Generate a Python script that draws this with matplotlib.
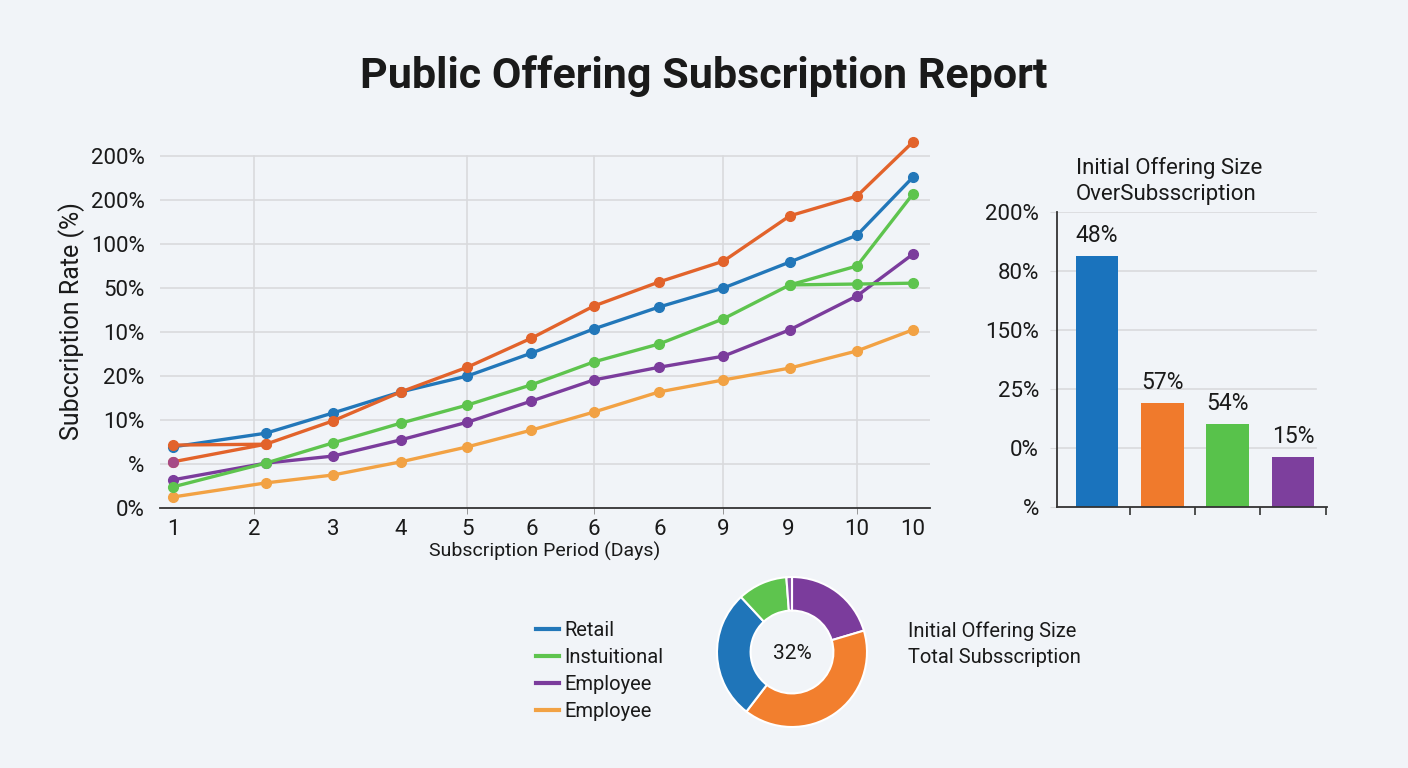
import matplotlib
matplotlib.use("Agg")
import matplotlib.pyplot as plt
from matplotlib.lines import Line2D

plt.rcParams['font.family'] = ['Roboto', 'DejaVu Sans']

# ---------------- data ----------------
title = "Public Offering Subscription Report"

# line chart: x positions of the 12 observation points (axis units) and their tick labels
day_pos = [0, 1.16, 2.0, 2.85, 3.68, 4.48, 5.26, 6.08, 6.88, 7.71, 8.55, 9.25]
day_tick_pos = [0, 1.01, 2.0, 2.85, 3.68, 4.48, 5.26, 6.08, 6.875, 7.69, 8.55, 9.25]
day_labels = ["1", "2", "3", "4", "5", "6", "6", "6", "9", "9", "10", "10"]
day_grid_pos = [1.01, 3.68, 5.26, 6.875, 8.55]

rate_tick_labels = ["0%", "%", "10%", "20%", "10%", "50%", "100%", "200%", "200%"]

retail = [1.39, 1.70, 2.16, 2.64, 3.00, 3.52, 4.07, 4.57, 5.00, 5.59, 6.20, 7.52]
red_main = [1.05, 1.45, 1.98, 2.64, 3.20, 3.86, 4.59, 5.14, 5.61, 6.64, 7.09, 8.32]
red_branch = [1.43, 1.45]
institutional = [0.48, 1.02, 1.48, 1.93, 2.34, 2.80, 3.32, 3.73, 4.30, 5.07, 5.50, 7.14]
inst_branch = [5.07, 5.09, 5.11]
employee_p = [0.64, 1.02, 1.18, 1.55, 1.95, 2.43, 2.91, 3.20, 3.45, 4.05, 4.82, 5.77]
employee_o = [0.25, 0.57, 0.75, 1.05, 1.39, 1.77, 2.18, 2.64, 2.91, 3.18, 3.57, 4.05]

legend_labels = ["Retail", "Instuitional", "Employee", "Employee"]

# bar chart
bar_title = "Initial Offering Size\nOverSubsscription"
bar_values = [4.25, 1.76, 1.41, 0.85]
bar_labels = ["48%", "57%", "54%", "15%"]
bar_tick_labels = ["%", "0%", "25%", "150%", "80%", "200%"]

# donut
donut_shares = [20.4, 40.0, 27.7, 10.7, 1.2]
donut_center = "32%"
donut_title = "Initial Offering Size\nTotal Subsscription"

# ---------------- style ----------------
BG = "#f1f4f8"
C_BLUE = "#2277b9"
C_RED = "#e2632b"
C_GREEN = "#5ec44e"
C_PURPLE = "#7b3c9c"
C_ORANGE = "#f2a244"
GRID = "#d9dadd"
TXT = "#1a1a1a"

fig = plt.figure(figsize=(14.08, 7.68), dpi=100, facecolor=BG)
W, H = 1408, 768

def ax_px(l, t, r, b):
    return fig.add_axes([l / W, 1 - b / H, (r - l) / W, (b - t) / H])

fig.text(704 / W, 1 - 76 / H, title, ha="center", va="center",
         fontsize=31, fontweight="bold", color=TXT)

# ---------------- line chart ----------------
ax = ax_px(160, 134, 930, 508)
ax.set_facecolor("none")
ax.set_xlim(-0.1625, 9.4625)
ax.set_ylim(0, 8.5)
for lvl in range(1, 9):
    ax.axhline(lvl, color=GRID, lw=1.2, zorder=0)
for gx in day_grid_pos:
    ax.axvline(gx, ymax=8 / 8.5, color=GRID, lw=1.2, zorder=0)

mk = dict(marker="o", markersize=7, lw=2.4)
ax.plot(day_pos, employee_o, color=C_ORANGE, **mk, zorder=3)
ax.plot(day_pos, employee_p, color=C_PURPLE, **mk, zorder=4)
ax.plot(day_pos, institutional, color=C_GREEN, **mk, zorder=5)
ax.plot(day_pos[9:], inst_branch, color=C_GREEN, **mk, zorder=5)
ax.plot(day_pos, retail, color=C_BLUE, **mk, zorder=6)
ax.plot(day_pos[:2], red_branch, color=C_RED, **mk, zorder=7)
ax.plot(day_pos, red_main, color=C_RED, **mk, zorder=7)
ax.plot(day_pos[0], red_main[0], marker="o", markersize=7, color="#a64a86", zorder=8)

ax.set_yticks(range(9))
ax.set_yticklabels(rate_tick_labels)
ax.tick_params(axis="y", length=0, pad=11, labelsize=16, labelcolor=TXT)
ax.xaxis.remove_overlapping_locs = False
ax.set_xticks(day_tick_pos)
ax.set_xticklabels(day_labels)
ax.tick_params(axis="x", which="major", length=0, pad=8, labelsize=16, labelcolor=TXT)
ax.set_xticks(day_grid_pos, minor=True)
ax.tick_params(axis="x", which="minor", length=4, color="#888888")
for s in ["top", "right", "left"]:
    ax.spines[s].set_visible(False)
ax.spines["bottom"].set_color("#333333")
ax.spines["bottom"].set_linewidth(1.3)
ax.set_xlabel("Subscription Period (Days)", fontsize=14, color=TXT, labelpad=1)
ax.set_ylabel("Subccription Rate (%)", fontsize=18, color=TXT, labelpad=4)

# ---------------- bar chart ----------------
bx = ax_px(1057, 212, 1327, 507)
bx.set_facecolor("none")
bx.set_xlim(-0.61, 3.52)
bx.set_ylim(0, 5)
for lvl in range(1, 6):
    bx.axhline(lvl, xmax=0.96, color=GRID, lw=1.2, zorder=0)
pos = list(range(len(bar_values)))
bx.bar(pos, bar_values, width=0.65, color=["#1a73bd", "#f07a2c", "#58c24b", "#7d3f9d"], zorder=2)
for p, v, lab in zip(pos, bar_values, bar_labels):
    bx.text(p, v + 0.15, lab, ha="center", va="bottom", fontsize=16.5, color=TXT)
bx.set_yticks(range(6))
bx.set_yticklabels(bar_tick_labels)
bx.tick_params(axis="y", length=5, color=GRID, pad=8, labelsize=16, labelcolor=TXT)
bx.set_xticks([0.5, 1.5, 2.5, 3.5])
bx.set_xticklabels([])
bx.tick_params(axis="x", length=6, color="#333333", width=1.2)
for s in ["top", "right"]:
    bx.spines[s].set_visible(False)
for s in ["left", "bottom"]:
    bx.spines[s].set_color("#333333")
    bx.spines[s].set_linewidth(1.3)
fig.text(1076 / W, 1 - 181 / H, bar_title, ha="left", va="center", fontsize=16,
         color=TXT, linespacing=1.35)

# ---------------- donut ----------------
dx = ax_px(712, 572, 872, 732)
dx.pie(donut_shares, colors=[C_PURPLE, "#f27f2e", "#1f75b9", C_GREEN, "#8a52a8"],
       startangle=90, counterclock=False, radius=0.9375,
       wedgeprops=dict(width=0.42, edgecolor="white", linewidth=1.5))
dx.set_xlim(-1, 1)
dx.set_ylim(-1, 1)
dx.set_aspect("auto")
dx.text(0, -0.02, donut_center, ha="center", va="center", fontsize=15, color=TXT)

fig.text(908 / W, 1 - 644 / H, donut_title, ha="left", va="center", fontsize=14.5,
         color=TXT, linespacing=1.45)

# legend
handles = [Line2D([], [], color=c, lw=3) for c in [C_BLUE, C_GREEN, C_PURPLE, C_ORANGE]]
leg = fig.legend(handles, legend_labels, loc="upper left",
                 bbox_to_anchor=(518 / W, 1 - 603 / H), frameon=False,
                 fontsize=14.5, handlelength=1.15, handletextpad=0.25, labelspacing=0.4)
for t in leg.get_texts():
    t.set_color(TXT)

fig.savefig("out.png", dpi=100, facecolor=BG)
